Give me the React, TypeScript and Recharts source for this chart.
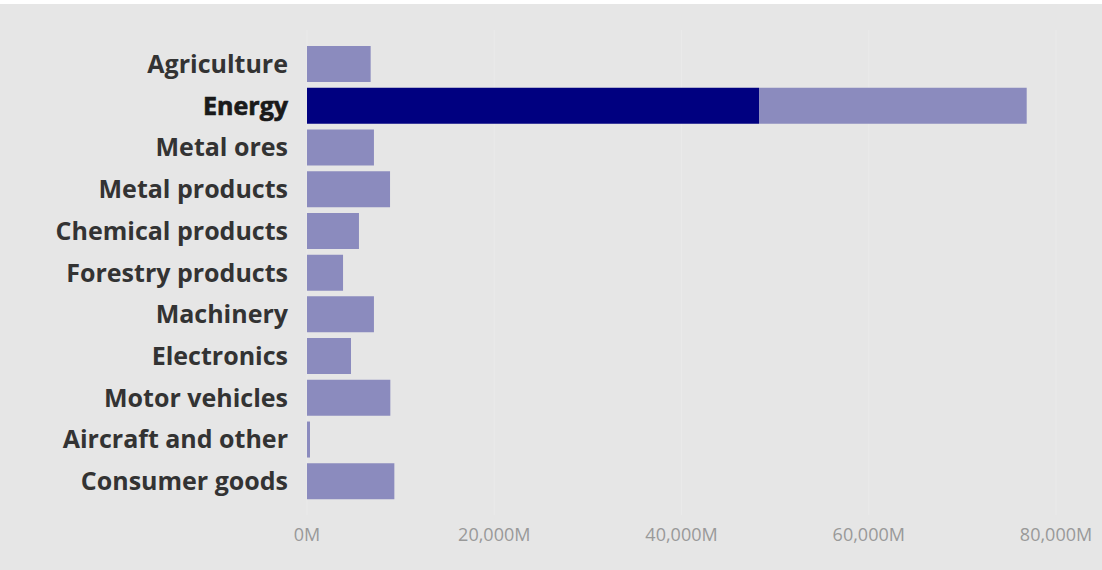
import React from "react";
import { BarChart, Bar, XAxis, YAxis, CartesianGrid } from "recharts";

const categories = [
  "Agriculture",
  "Energy",
  "Metal ores",
  "Metal products",
  "Chemical products",
  "Forestry products",
  "Machinery",
  "Electronics",
  "Motor vehicles",
  "Aircraft and other",
  "Consumer goods",
];

// total values (millions)
const totals = [6800, 76870, 7150, 8870, 5550, 3850, 7150, 4700, 8900, 320, 9330];
// highlighted portion (millions)
const highlighted = [0, 48280, 0, 0, 0, 0, 0, 0, 0, 0, 0];

const xTicks = [0, 20000, 40000, 60000, 80000];
const selectedCategory = "Energy";

const data = categories.map((c, i) => ({
  name: c,
  highlight: highlighted[i],
  rest: totals[i] - highlighted[i],
}));

const fmt = (v: number) => `${v.toLocaleString("en-US")}M`;

const CategoryTick = (props: any) => {
  const { x, y, payload } = props;
  const sel = payload.value === selectedCategory;
  return (
    <text
      x={x}
      y={y}
      dy="0.36em"
      textAnchor="end"
      fontFamily="'Open Sans', sans-serif"
      fontSize={25}
      fontWeight={700}
      fill={sel ? "#1a1a1a" : "#333333"}
      stroke={sel ? "#1a1a1a" : "none"}
      strokeWidth={sel ? 0.7 : 0}
    >
      {payload.value}
    </text>
  );
};

export default function App() {
  return (
    <div style={{ width: 1102, height: 570, background: "#ffffff", position: "absolute", left: 0, top: 0 }}>
      <div style={{ position: "absolute", left: 0, top: 4, width: 1102, height: 566, background: "#e6e6e6" }}>
        <BarChart
          width={1102}
          height={566}
          data={data}
          layout="vertical"
          margin={{ top: 26, right: 46, bottom: 25, left: 0 }}
          barSize={36}
        >
          <CartesianGrid horizontal={false} vertical={true} stroke="#eaeaea" strokeWidth={1} />
          <XAxis
            type="number"
            domain={[0, 80000]}
            ticks={xTicks}
            tickFormatter={fmt}
            axisLine={false}
            tickLine={false}
            tickSize={0}
            tickMargin={13}
            height={30}
            tick={{ fill: "#999999", fontSize: 18, fontFamily: "'Open Sans', sans-serif" }}
            interval={0}
          />
          <YAxis
            type="category"
            dataKey="name"
            width={307}
            axisLine={false}
            tickLine={false}
            tickSize={0}
            tickMargin={19}
            padding={{ top: 13, bottom: 13 }}
            tick={<CategoryTick />}
            interval={0}
          />
          <Bar dataKey="highlight" stackId="a" fill="#000080" isAnimationActive={false} />
          <Bar dataKey="rest" stackId="a" fill="#8b8bbe" isAnimationActive={false} />
        </BarChart>
      </div>
    </div>
  );
}
